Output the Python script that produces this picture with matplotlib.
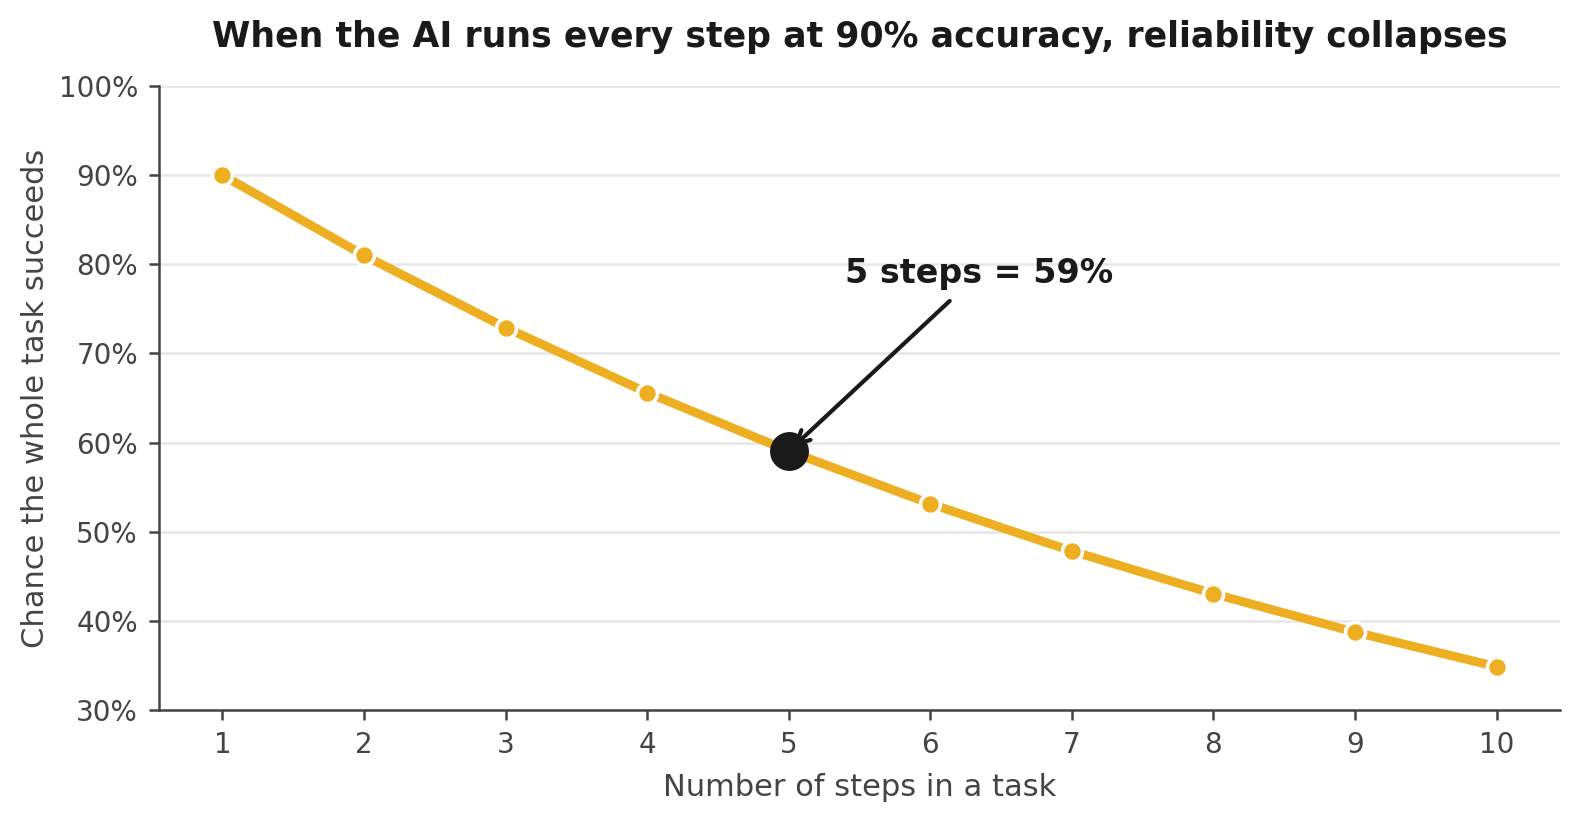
import matplotlib
matplotlib.use("Agg")
import matplotlib.pyplot as plt
from matplotlib.ticker import PercentFormatter

steps = [1, 2, 3, 4, 5, 6, 7, 8, 9, 10]
success = [0.90, 0.81, 0.729, 0.6561, 0.5905, 0.5314, 0.4783, 0.4305, 0.3874, 0.3487]
highlight_step = 5
highlight_value = 0.5905
yticks = [0.3, 0.4, 0.5, 0.6, 0.7, 0.8, 0.9, 1.0]

plt.rcParams['font.family'] = ['DejaVu Sans']
dark = '#444444'
fig = plt.figure(figsize=(7.9, 4.095), dpi=200)
ax = fig.add_axes([0.1005, 0.133, 0.887, 0.762])

ax.plot(steps, success, color='#EEAE22', lw=3.2, marker='o', markersize=7.2,
        markerfacecolor='#EEAE22', markeredgecolor='white', markeredgewidth=1.3, zorder=3)
ax.plot([highlight_step], [highlight_value], marker='o', markersize=13, color='#1a1a1a', zorder=4)
ax.annotate('5 steps = 59%', xy=(highlight_step, highlight_value), xytext=(5.4, 0.79),
            fontsize=12, fontweight='bold', color='#1a1a1a', ha='left', va='center',
            arrowprops=dict(arrowstyle='->', color='#1a1a1a', lw=1.5, shrinkA=3, shrinkB=2), zorder=5)

ax.set_ylim(0.3, 1.0)
ax.set_xlim(0.55, 10.45)
ax.set_xticks(steps)
ax.set_yticks(yticks)
ax.yaxis.set_major_formatter(PercentFormatter(1.0, decimals=0))
ax.grid(axis='y', color='#e6e6e6', lw=0.9, zorder=0)
ax.set_axisbelow(True)
for s in ['top', 'right']:
    ax.spines[s].set_visible(False)
for s in ['left', 'bottom']:
    ax.spines[s].set_color(dark)
    ax.spines[s].set_linewidth(0.9)
ax.tick_params(colors=dark, labelsize=10, length=3.5, width=0.9, pad=4)
ax.set_xlabel('Number of steps in a task', fontsize=11, color=dark, labelpad=5)
ax.set_ylabel('Chance the whole task succeeds', fontsize=11, color=dark, labelpad=3)
ax.set_title('When the AI runs every step at 90% accuracy, reliability collapses',
             fontsize=12.5, fontweight='bold', color='#1a1a1a', pad=14)

fig.savefig('out.png', dpi=200)
